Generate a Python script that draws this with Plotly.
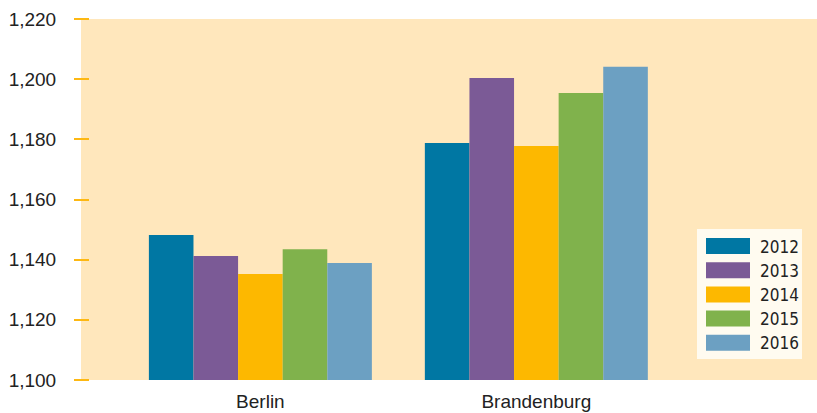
import plotly.graph_objects as go

categories = ["Berlin", "Brandenburg"]
years = ["2012", "2013", "2014", "2015", "2016"]
values = {
    "2012": [1148.2, 1178.8],
    "2013": [1141.2, 1200.4],
    "2014": [1135.2, 1177.8],
    "2015": [1143.5, 1195.4],
    "2016": [1138.9, 1204.1],
}
colors = ["#0077A3", "#7B5A96", "#FDB800", "#80B24C", "#6CA0C2"]
y_ticks = [1100, 1120, 1140, 1160, 1180, 1200, 1220]

W, H = 817, 413
L, R, T, B = 81, 0, 19, 33
pw, ph = W - L - R, H - T - B

def px_x(x):
    return (x - L) / pw

def px_y(y):
    return (H - B - y) / ph

fig = go.Figure()
for yr, c in zip(years, colors):
    fig.add_trace(go.Bar(x=categories, y=values[yr], name=yr, marker_color=c,
                         marker_line_width=0, showlegend=False))

# manual legend
shapes = [dict(type="rect", xref="paper", yref="paper",
               x0=px_x(697), x1=px_x(802), y0=px_y(359), y1=px_y(229),
               fillcolor="#FFFBF0", line_width=0, layer="above")]
annotations = []
for i, (yr, c) in enumerate(zip(years, colors)):
    top = 238 + i * 24.2
    shapes.append(dict(type="rect", xref="paper", yref="paper",
                       x0=px_x(706), x1=px_x(750), y0=px_y(top + 16), y1=px_y(top),
                       fillcolor=c, line_width=0, layer="above"))
    annotations.append(dict(xref="paper", yref="paper", x=px_x(758), y=px_y(top + 8.5),
                            text=yr, showarrow=False, xanchor="left", yanchor="middle",
                            font=dict(family="DejaVu Sans Condensed", size=17, color="#222222")))

fig.update_layout(
    width=W, height=H,
    margin=dict(l=L, r=R, t=T, b=B, pad=0),
    paper_bgcolor="white",
    plot_bgcolor="#FFE7BC",
    barmode="group", bargap=0.192, bargroupgap=0,
    font=dict(family="Liberation Sans", size=19, color="#222222"),
    shapes=shapes, annotations=annotations,
    xaxis=dict(range=[-0.65, 2.017], showgrid=False, zeroline=False, showline=False,
               ticks="outside", ticklen=4, tickcolor="rgba(0,0,0,0)",
               tickfont=dict(size=19), domain=[0, 1], automargin=False),
    yaxis=dict(range=[1100, 1220], tickvals=y_ticks, tickformat=",d",
               showgrid=False, zeroline=False, showline=False,
               ticks="outside", ticklen=15, tickwidth=1.5, tickcolor="#FDB813",
               anchor="free", position=8 / pw, ticklabelstandoff=14,
               tickfont=dict(size=19), automargin=False),
)

fig.write_html("out.html")
